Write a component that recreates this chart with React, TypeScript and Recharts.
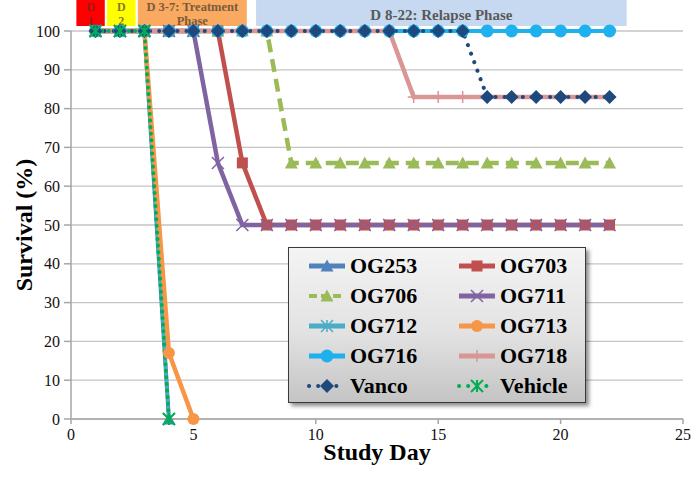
import React from 'react';
import { LineChart, Line, XAxis, YAxis, CartesianGrid, ReferenceArea } from 'recharts';

const days = [1, 2, 3, 4, 5, 6, 7, 8, 9, 10, 11, 12, 13, 14, 15, 16, 17, 18, 19, 20, 21, 22];
const og253 = [100, 100, 100, 0];
const og703 = [100, 100, 100, 100, 100, 100, 66, 50, 50, 50, 50, 50, 50, 50, 50, 50, 50, 50, 50, 50, 50, 50];
const og706 = [100, 100, 100, 100, 100, 100, 100, 100, 66, 66, 66, 66, 66, 66, 66, 66, 66, 66, 66, 66, 66, 66];
const og711 = [100, 100, 100, 100, 100, 66, 50, 50, 50, 50, 50, 50, 50, 50, 50, 50, 50, 50, 50, 50, 50, 50];
const og712 = [100, 100, 100, 0];
const og713 = [100, 100, 100, 17, 0];
const og716 = [100, 100, 100, 100, 100, 100, 100, 100, 100, 100, 100, 100, 100, 100, 100, 100, 100, 100, 100, 100, 100, 100];
const og718 = [100, 100, 100, 100, 100, 100, 100, 100, 100, 100, 100, 100, 100, 83, 83, 83, 83, 83, 83, 83, 83, 83];
const vanco = [100, 100, 100, 100, 100, 100, 100, 100, 100, 100, 100, 100, 100, 100, 100, 100, 83, 83, 83, 83, 83, 83];
const vehicle = [100, 100, 100, 0];

const xTicks = [0, 5, 10, 15, 20, 25];
const yTicks = [0, 10, 20, 30, 40, 50, 60, 70, 80, 90, 100];

const phases = [
  { x1: 0.22, x2: 1.38, lines: ['D', '1'], fill: '#FF0000', color: '#9A1C1C', fontSize: 12 },
  { x1: 1.47, x2: 2.64, lines: ['D', '2'], fill: '#FFFF00', color: '#857A2A', fontSize: 12 },
  { x1: 2.73, x2: 7.18, lines: ['D 3-7: Treatment', 'Phase'], fill: '#F9A960', color: '#7A5C3C', fontSize: 12.5 },
  { x1: 7.56, x2: 22.7, lines: ['D 8-22: Relapse Phase'], fill: '#C6D9F1', color: '#595959', fontSize: 15 },
];

type Shape = 'triangle' | 'square' | 'x' | 'star' | 'circle' | 'plus' | 'diamond' | 'vstar';

interface SeriesDef {
  key: string;
  values: number[];
  color: string;
  width: number;
  dash?: string;
  cap?: 'round' | 'butt';
  shape: Shape;
  size: number;
}

const series: SeriesDef[] = [
  { key: 'OG253', values: og253, color: '#4F81BD', width: 4, shape: 'triangle', size: 13 },
  { key: 'OG703', values: og703, color: '#C0504D', width: 4.5, shape: 'square', size: 11 },
  { key: 'OG706', values: og706, color: '#9BBB59', width: 4.5, dash: '13 7', shape: 'triangle', size: 13 },
  { key: 'OG711', values: og711, color: '#8064A2', width: 4.5, shape: 'x', size: 12 },
  { key: 'OG712', values: og712, color: '#4BACC6', width: 3, shape: 'star', size: 12 },
  { key: 'OG713', values: og713, color: '#F79646', width: 4.5, shape: 'circle', size: 12 },
  { key: 'OG716', values: og716, color: '#1FB0EE', width: 4, shape: 'circle', size: 13 },
  { key: 'OG718', values: og718, color: '#D99694', width: 4.5, shape: 'plus', size: 12 },
  { key: 'Vanco', values: vanco, color: '#1F497D', width: 4, dash: '0.1 9', cap: 'round', shape: 'diamond', size: 14 },
  { key: 'Vehicle', values: vehicle, color: '#00B050', width: 4, dash: '0.1 6.5', cap: 'round', shape: 'vstar', size: 12 },
];

const data = days.map((d, i) => {
  const row: Record<string, number | null> = { day: d };
  series.forEach((s) => {
    row[s.key] = i < s.values.length ? s.values[i] : null;
  });
  return row;
});

function marker(shape: Shape, cx: number, cy: number, color: string, size: number, key?: string | number) {
  const h = size / 2;
  switch (shape) {
    case 'triangle':
      return <polygon key={key} points={`${cx},${cy - h} ${cx + h},${cy + h * 0.85} ${cx - h},${cy + h * 0.85}`} fill={color} />;
    case 'square':
      return <rect key={key} x={cx - h} y={cy - h} width={size} height={size} fill={color} />;
    case 'circle':
      return <circle key={key} cx={cx} cy={cy} r={h} fill={color} />;
    case 'diamond':
      return <polygon key={key} points={`${cx},${cy - h} ${cx + h},${cy} ${cx},${cy + h} ${cx - h},${cy}`} fill={color} />;
    case 'x':
      return (
        <path key={key} d={`M${cx - h},${cy - h}L${cx + h},${cy + h}M${cx + h},${cy - h}L${cx - h},${cy + h}`} stroke={color} strokeWidth={1.5} fill="none" />
      );
    case 'plus':
      return <path key={key} d={`M${cx},${cy - h}L${cx},${cy + h}M${cx - h},${cy}L${cx + h},${cy}`} stroke={color} strokeWidth={1.5} fill="none" />;
    case 'star':
    case 'vstar':
      return (
        <path
          key={key}
          d={`M${cx - h},${cy - h}L${cx + h},${cy + h}M${cx + h},${cy - h}L${cx - h},${cy + h}M${cx},${cy - h}L${cx},${cy + h}`}
          stroke={color}
          strokeWidth={shape === 'vstar' ? 2 : 1.5}
          fill="none"
        />
      );
  }
  return <g key={key} />;
}

const serif = '"Liberation Serif", "DejaVu Serif", serif';

function LegendIcon({ s }: { s: SeriesDef }) {
  return (
    <svg width={40} height={20} style={{ display: 'block' }}>
      <line
        x1={2}
        y1={10}
        x2={38}
        y2={10}
        stroke={s.color}
        strokeWidth={s.dash ? 4 : 5}
        strokeDasharray={s.dash ? (s.cap === 'round' ? '0.1 9' : '8 4') : undefined}
        strokeLinecap={s.cap === 'round' ? 'round' : 'butt'}
      />
      {marker(s.shape, 20, 10, s.color, s.size)}
    </svg>
  );
}

function CustomLegend() {
  const rows: SeriesDef[][] = [];
  for (let i = 0; i < series.length; i += 2) rows.push([series[i], series[i + 1]]);
  return (
    <div
      style={{
        position: 'absolute',
        left: 288,
        top: 247,
        width: 298,
        height: 156,
        border: '1px solid #3a3a3a',
        background: 'linear-gradient(to bottom, #f4f4f4 0%, #e2e2e2 55%, #c4c4c4 100%)',
        boxShadow: '3px 3px 4px rgba(0,0,0,0.45)',
        boxSizing: 'border-box',
      }}
    >
      {rows.map((r, ri) =>
        r.map((s, ci) => (
          <div
            key={s.key}
            style={{ display: 'flex', alignItems: 'center', position: 'absolute', left: ci === 0 ? 18 : 168, top: 3 + ri * 30, height: 30 }}
          >
            <LegendIcon s={s} />
            <span style={{ fontFamily: serif, fontWeight: 'bold', fontSize: 22, color: '#000', marginLeft: 3, lineHeight: '30px' }}>{s.key}</span>
          </div>
        ))
      )}
    </div>
  );
}

function phaseLabel(p: (typeof phases)[number]) {
  return (props: any) => {
    const vb = props.viewBox || {};
    const cx = vb.x + vb.width / 2;
    const n = p.lines.length;
    const lineH = 14;
    const cy = vb.y + vb.height / 2 + (n === 1 ? 2 : 1.5);
    return (
      <g>
        {p.lines.map((t, i) => (
          <text
            key={i}
            x={cx}
            y={cy + (i - (n - 1) / 2) * lineH}
            textAnchor="middle"
            dominantBaseline="central"
            fontFamily={serif}
            fontWeight="bold"
            fontSize={p.fontSize}
            fill={p.color}
          >
            {t}
          </text>
        ))}
      </g>
    );
  };
}

export default function App() {
  return (
    <div style={{ position: 'absolute', left: 0, top: 0, width: 691, height: 490, background: '#fff' }}>
      <LineChart width={691} height={490} data={data} margin={{ top: 31, right: 8, bottom: 0, left: 0 }}>
        <CartesianGrid horizontal vertical={false} stroke="#c4c4c4" strokeWidth={1.3} />
        {phases.map((p, i) => (
          <ReferenceArea
            key={i}
            x1={p.x1}
            x2={p.x2}
            y1={101.3}
            y2={108}
            ifOverflow="visible"
            fill={p.fill}
            fillOpacity={1}
            stroke="none"
            label={phaseLabel(p)}
          />
        ))}
        <XAxis
          dataKey="day"
          type="number"
          domain={[0, 25]}
          ticks={xTicks}
          height={71}
          stroke="#a6a6a6"
          strokeWidth={1.5}
          tickSize={5}
          tickMargin={5}
          tick={{ fontFamily: serif, fontSize: 16, fill: '#111' }}
          label={() => (
            <text x={377} y={452} textAnchor="middle" dominantBaseline="central" fontFamily={serif} fontWeight="bold" fontSize={24} fill="#000">
              Study Day
            </text>
          )}
        />
        <YAxis
          type="number"
          domain={[0, 100]}
          ticks={yTicks}
          width={71}
          stroke="#a6a6a6"
          strokeWidth={1.5}
          tickSize={7}
          tickMargin={4}
          tick={{ fontFamily: serif, fontSize: 16, fill: '#111' }}
          label={() => (
            <text
              x={24}
              y={225}
              textAnchor="middle"
              dominantBaseline="central"
              fontFamily={serif}
              fontWeight="bold"
              fontSize={24}
              fill="#000"
              transform="rotate(-90, 24, 225)"
            >
              Survival (%)
            </text>
          )}
        />
        {series.map((s) => (
          <Line
            key={s.key}
            type="linear"
            dataKey={s.key}
            stroke={s.color}
            strokeWidth={s.width}
            strokeDasharray={s.dash}
            strokeLinecap={s.cap === 'round' ? 'round' : 'butt'}
            isAnimationActive={false}
            activeDot={false}
            dot={(props: any) => {
              const { cx, cy, index } = props;
              if (cx == null || cy == null || props.value == null) return <g key={`${s.key}-${index}`} />;
              return marker(s.shape, cx, cy, s.color, s.size, `${s.key}-${index}`);
            }}
          />
        ))}
      </LineChart>
      <CustomLegend />
    </div>
  );
}
